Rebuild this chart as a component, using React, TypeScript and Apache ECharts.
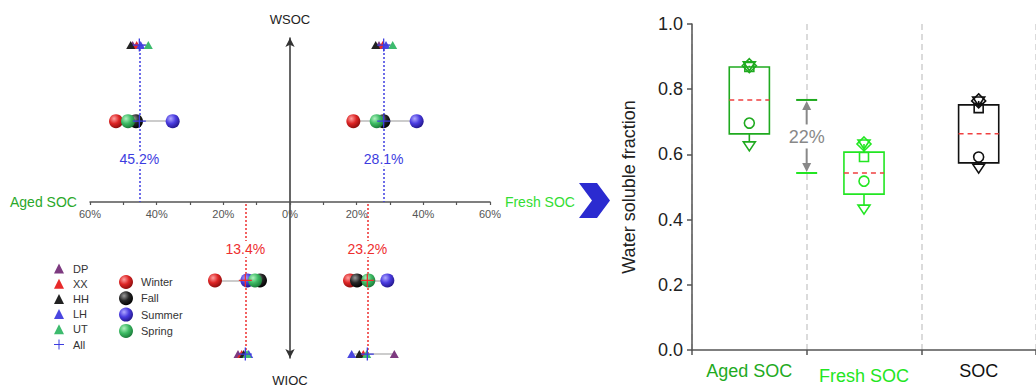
import React, { useEffect, useRef } from 'react';
import * as echarts from 'echarts';

const FONT = 'Liberation Sans, Arial, Helvetica, sans-serif';

// ---------- left panel data (percent of SOC) ----------
const sites = ['DP', 'XX', 'HH', 'LH', 'UT'];
const siteColors = ['#7d3a80', '#e82a2a', '#222222', '#4a46e0', '#3dbb6e'];
const siteAgedWSOC = [47.2, 46.0, 47.8, 44.8, 42.5];
const siteFreshWSOC = [26.7, 27.8, 25.7, 28.8, 30.8];
const siteAgedWIOC = [15.6, 14.5, 13.9, 12.4, 12.9];
const siteFreshWIOC = [31.3, 22.0, 20.8, 18.5, 23.0];

const seasons = ['Winter', 'Fall', 'Summer', 'Spring'];
const seasonShades = [
  ['#ffa0a0', '#dd2525', '#8a0d0d'],
  ['#9a9a9a', '#262626', '#000000'],
  ['#b0a8ff', '#4a3ce0', '#22168a'],
  ['#b0f2c0', '#3dbb64', '#1a7a38'],
];
const seasonAgedWSOC = [52.2, 46.2, 35.2, 48.6];
const seasonFreshWSOC = [19.0, 28.0, 38.0, 26.0];
const seasonAgedWIOC = [22.5, 9.0, 12.8, 10.5];
const seasonFreshWIOC = [18.0, 20.1, 29.2, 23.5];

const allAgedWSOC = 45.2;
const allFreshWSOC = 28.1;
const allAgedWIOC = 13.4;
const allFreshWIOC = 23.2;

const xTicks = [-60, -40, -20, 0, 20, 40, 60];

// row positions: WSOC half (upwards), WIOC half (downwards)
const ROW_WS_SITE = 2.0;
const ROW_WS_SEASON = 1.03;
const ROW_WS_LABEL = 0.55;
const ROW_WI_LABEL = -0.6;
const ROW_WI_SEASON = -1.0;
const ROW_WI_SITE = -1.94;

// ---------- right panel data ----------
const boxCats = ['Aged SOC', 'Fresh SOC', 'SOC'];
const boxColors = ['#1faa1f', '#22e622', '#111111'];
const boxQ3 = [0.868, 0.607, 0.752];
const boxQ1 = [0.663, 0.478, 0.574];
const boxMean = [0.767, 0.543, 0.663];
const boxMax = [0.872, 0.632, 0.764];
const squareVals = [0.868, 0.592, 0.742];
const circleVals = [0.696, 0.518, 0.592];
const boxMin = [0.626, 0.432, 0.558];
const yTicks = [0, 0.2, 0.4, 0.6, 0.8, 1.0];

const PLUS = 'path://M9,0h2v9h9v2h-9v9h-2v-9h-9v-2h9z';
const BLUE = '#3c3ce0';
const RED = '#ee2e2e';

function seg(vals: number[], y: number) {
  return { coords: [[Math.min(...vals), y], [Math.max(...vals), y]] };
}

function buildOption() {
  const neg = (a: number[]) => a.map((v) => -v);

  // per half: 0 = WSOC (top grid), 1 = WIOC (bottom grid)
  const halves = [
    {
      siteAged: siteAgedWSOC, siteFresh: siteFreshWSOC,
      seasonAged: seasonAgedWSOC, seasonFresh: seasonFreshWSOC,
      allAged: allAgedWSOC, allFresh: allFreshWSOC,
      rowSite: ROW_WS_SITE, rowSeason: ROW_WS_SEASON, rowLabel: ROW_WS_LABEL,
      lineColor: BLUE, seasonCross: BLUE,
    },
    {
      siteAged: siteAgedWIOC, siteFresh: siteFreshWIOC,
      seasonAged: seasonAgedWIOC, seasonFresh: seasonFreshWIOC,
      allAged: allAgedWIOC, allFresh: allFreshWIOC,
      rowSite: ROW_WI_SITE, rowSeason: ROW_WI_SEASON, rowLabel: ROW_WI_LABEL,
      lineColor: RED, seasonCross: RED,
    },
  ];

  const leftSeries: any[] = [];
  halves.forEach((h, g) => {
    const ax = { xAxisIndex: g, yAxisIndex: g };
    leftSeries.push({
      type: 'lines',
      coordinateSystem: 'cartesian2d',
      ...ax,
      z: 1,
      silent: true,
      lineStyle: { color: '#cccccc', width: 2, opacity: 1 },
      data: [
        seg([...neg(h.siteAged), -h.allAged], h.rowSite),
        seg([...h.siteFresh, h.allFresh], h.rowSite),
        seg(neg(h.seasonAged), h.rowSeason),
        seg(h.seasonFresh, h.rowSeason),
      ],
    });
    leftSeries.push({
      type: 'lines',
      coordinateSystem: 'cartesian2d',
      ...ax,
      z: 2,
      silent: true,
      lineStyle: { width: 1.5, type: [2, 2], opacity: 1, color: h.lineColor },
      data: [
        { coords: [[-h.allAged, h.rowSite], [-h.allAged, 0]] },
        { coords: [[h.allFresh, h.rowSite], [h.allFresh, 0]] },
      ],
    });
    seasons.forEach((s, i) => {
      leftSeries.push({
        name: s,
        type: 'scatter',
        ...ax,
        symbol: 'circle',
        symbolSize: 14,
        z: 3,
        itemStyle: {
          opacity: 1,
          color: {
            type: 'radial',
            x: 0.36,
            y: 0.32,
            r: 0.72,
            colorStops: [
              { offset: 0, color: seasonShades[i][0] },
              { offset: 0.5, color: seasonShades[i][1] },
              { offset: 1, color: seasonShades[i][2] },
            ],
          },
        },
        data: [
          [-h.seasonAged[i], h.rowSeason],
          [h.seasonFresh[i], h.rowSeason],
        ],
      });
    });
    sites.forEach((s, i) => {
      leftSeries.push({
        name: s,
        type: 'scatter',
        ...ax,
        symbol: 'triangle',
        symbolSize: [9, 8],
        z: 4,
        itemStyle: { color: siteColors[i], opacity: 1 },
        data: [
          [-h.siteAged[i], h.rowSite],
          [h.siteFresh[i], h.rowSite],
        ],
      });
    });
    leftSeries.push({
      name: 'All',
      type: 'scatter',
      ...ax,
      symbol: PLUS,
      symbolSize: 13,
      z: 5,
      itemStyle: { color: BLUE, opacity: 1 },
      data: [
        [-h.allAged, h.rowSite],
        [h.allFresh, h.rowSite],
      ],
    });
    leftSeries.push({
      name: g === 0 ? 'All' : 'AllSeasonWIOC',
      type: 'scatter',
      ...ax,
      symbol: PLUS,
      symbolSize: 13,
      z: 5,
      itemStyle: { color: h.seasonCross, opacity: 1 },
      data: [
        [-h.allAged, h.rowSeason],
        [h.allFresh, h.rowSeason],
      ],
    });
    leftSeries.push({
      type: 'scatter',
      ...ax,
      symbol: 'circle',
      symbolSize: 2,
      z: 6,
      silent: true,
      itemStyle: { color: 'rgba(255,255,255,0)', opacity: 1 },
      label: {
        show: true,
        position: 'inside',
        fontSize: 14,
        fontFamily: FONT,
        color: h.lineColor,
        opacity: 1,
        backgroundColor: '#ffffff',
        padding: [1, 2],
        formatter: (p: any) => `${Math.abs(p.value[0]).toFixed(1)}%`,
      },
      data: [
        [-h.allAged, h.rowLabel],
        [h.allFresh, h.rowLabel],
      ],
    });
  });

  const boxData = boxCats.map((_, i) => [i, boxQ3[i], boxQ1[i], boxMean[i], boxMax[i], squareVals[i], circleVals[i], boxMin[i]]);

  const hiddenY = {
    axisTick: { show: false },
    axisLabel: { show: false },
    splitLine: { show: false },
  };

  return {
    animation: false,
    textStyle: { fontFamily: FONT },
    grid: [
      { left: 90, top: 38, width: 400, height: 164 },
      { left: 90, top: 202, width: 400, height: 156 },
      { left: 692, top: 24, width: 352.5, height: 326 },
    ],
    legend: [
      {
        data: [...sites, 'All'],
        orient: 'vertical',
        left: 54,
        top: 263,
        itemWidth: 10,
        itemHeight: 10,
        itemGap: 4.2,
        padding: 0,
        selectedMode: false,
        textStyle: { fontSize: 11, color: '#333', padding: [0, 0, 0, 4], fontFamily: FONT },
      },
      {
        data: seasons,
        orient: 'vertical',
        left: 119,
        top: 275,
        itemWidth: 14,
        itemHeight: 14,
        itemGap: 2.3,
        padding: 0,
        selectedMode: false,
        textStyle: { fontSize: 11, color: '#333', padding: [0, 0, 0, 3], fontFamily: FONT },
      },
    ],
    xAxis: [
      {
        gridIndex: 0,
        type: 'value',
        min: -60,
        max: 60,
        interval: 20,
        name: 'Fresh SOC',
        nameLocation: 'end',
        nameGap: 12,
        nameTextStyle: { color: '#33dd33', fontSize: 14, verticalAlign: 'middle', fontFamily: FONT },
        axisLine: { show: true, onZero: false, lineStyle: { color: '#555', width: 1.5 } },
        axisTick: { show: true, length: 3, lineStyle: { color: '#555', width: 1.2 } },
        minorTick: { show: true, splitNumber: 2, length: 3, lineStyle: { color: '#555', width: 1.2 } },
        axisLabel: {
          fontSize: 11,
          color: '#555',
          margin: 6,
          customValues: xTicks,
          formatter: (v: number) => `${Math.abs(v)}%`,
        },
        splitLine: { show: false },
      },
      {
        gridIndex: 1,
        type: 'value',
        min: -60,
        max: 60,
        interval: 20,
        show: false,
      },
      {
        gridIndex: 2,
        type: 'category',
        data: boxCats,
        boundaryGap: true,
        axisLine: { show: true, lineStyle: { color: '#555', width: 1.5 } },
        axisTick: { show: true, length: 5, lineStyle: { color: '#555', width: 1.5 } },
        axisLabel: {
          margin: 12,
          interval: 0,
          formatter: (v: string, i: number) => `{c${i}|${v}}`,
          rich: {
            c0: { color: boxColors[0], fontSize: 18, fontFamily: FONT },
            c1: { color: boxColors[1], fontSize: 18, fontFamily: FONT, padding: [5, 0, 0, 0] },
            c2: { color: '#111', fontSize: 18, fontFamily: FONT },
          },
        },
        splitLine: { show: true, interval: 0, lineStyle: { color: '#cfcfcf', width: 1.5, type: [6, 4] } },
      },
    ],
    yAxis: [
      {
        gridIndex: 0,
        type: 'value',
        min: 0,
        max: 2.09,
        name: 'WSOC',
        nameLocation: 'end',
        nameGap: 12,
        nameTextStyle: { color: '#222', fontSize: 13, fontFamily: FONT },
        axisLine: {
          show: true,
          onZero: true,
          symbol: ['none', 'arrow'],
          symbolSize: [7, 9],
          lineStyle: { color: '#333', width: 1.5 },
        },
        ...hiddenY,
      },
      {
        gridIndex: 1,
        type: 'value',
        min: -1.99,
        max: 0,
        axisLine: {
          show: true,
          onZero: true,
          symbol: ['arrow', 'none'],
          symbolSize: [7, 9],
          lineStyle: { color: '#333', width: 1.5 },
        },
        ...hiddenY,
      },
      {
        gridIndex: 2,
        type: 'value',
        min: 0,
        max: 1,
        interval: 0.2,
        name: 'Water soluble fraction',
        nameLocation: 'middle',
        nameGap: 54,
        nameTextStyle: { color: '#222', fontSize: 18, fontFamily: FONT },
        axisLine: { show: true, lineStyle: { color: '#555', width: 1.5 } },
        axisTick: { show: true, length: 5, lineStyle: { color: '#555', width: 1.5 } },
        axisLabel: {
          fontSize: 18,
          color: '#222',
          margin: 9,
          customValues: yTicks,
          formatter: (v: number) => v.toFixed(1),
        },
        splitLine: { show: false },
      },
    ],
    graphic: [
      {
        type: 'text',
        x: 10,
        y: 202,
        style: { text: 'Aged SOC', fill: '#2aa82a', fontSize: 14, fontFamily: FONT, verticalAlign: 'middle' },
      },
      {
        type: 'text',
        x: 290,
        y: 380,
        style: { text: 'WIOC', fill: '#222', fontSize: 13, fontFamily: FONT, align: 'center', verticalAlign: 'middle' },
      },
      {
        type: 'polygon',
        shape: { points: [[579, 183], [597, 183], [610, 200.5], [597, 218], [579, 218], [592, 200.5]] },
        style: { fill: '#2b2bd0' },
      },
    ],
    series: [
      ...leftSeries,
      {
        type: 'custom',
        xAxisIndex: 2,
        yAxisIndex: 2,
        z: 4,
        silent: true,
        data: boxData,
        renderItem: (params: any, api: any) => {
          const idx = api.value(0);
          const q3 = api.value(1);
          const q1 = api.value(2);
          const mean = api.value(3);
          const mx = api.value(4);
          const sq = api.value(5);
          const ci = api.value(6);
          const mn = api.value(7);
          const color = boxColors[idx];
          const cx = api.coord([idx, mean])[0];
          const bw = api.size([1, 0])[0];
          const hw = bw * 0.175;
          const y = (v: number) => api.coord([idx, v])[1];
          const st = { stroke: color, lineWidth: 1.6, fill: 'none' };
          const tri = (yy: number) => ({
            type: 'polygon',
            shape: { points: [[cx - 6, yy - 4], [cx + 6, yy - 4], [cx, yy + 5]] },
            style: st,
          });
          const children: any[] = [
            {
              type: 'rect',
              shape: { x: cx - hw, y: y(q3), width: 2 * hw, height: y(q1) - y(q3) },
              style: st,
            },
            {
              type: 'line',
              shape: { x1: cx - hw, y1: y(mean), x2: cx + hw, y2: y(mean) },
              style: { stroke: '#f04040', lineWidth: 1.5, lineDash: [5, 4] },
            },
            { type: 'line', shape: { x1: cx, y1: y(q1), x2: cx, y2: y(mn) - 4 }, style: st },
            { type: 'line', shape: { x1: cx, y1: y(q3), x2: cx, y2: y(mx) }, style: st },
            tri(y(mn)),
            tri(y(mx)),
            {
              type: 'polygon',
              shape: { points: [[cx, y(mx) - 7], [cx + 7, y(mx)], [cx, y(mx) + 7], [cx - 7, y(mx)]] },
              style: st,
            },
            {
              type: 'rect',
              shape: { x: cx - 4.5, y: y(sq) - 4.5, width: 9, height: 9 },
              style: st,
            },
            { type: 'circle', shape: { cx, cy: y(ci), r: 5 }, style: st },
          ];
          return { type: 'group', children };
        },
      },
      {
        type: 'custom',
        xAxisIndex: 2,
        yAxisIndex: 2,
        z: 5,
        silent: true,
        data: [[0, boxMean[0], boxMean[1]]],
        renderItem: (params: any, api: any) => {
          const a = api.value(1);
          const b = api.value(2);
          const bw = api.size([1, 0])[0];
          const bx = api.coord([0, a])[0] + bw / 2;
          const ya = api.coord([0, a])[1];
          const yb = api.coord([0, b])[1];
          const mid = (ya + yb) / 2;
          const gray = '#888888';
          return {
            type: 'group',
            children: [
              { type: 'rect', shape: { x: bx - 4, y: ya + 2, width: 8, height: yb - ya - 4 }, style: { fill: '#fff' } },
              { type: 'line', shape: { x1: bx - 10.5, y1: ya, x2: bx + 10.5, y2: ya }, style: { stroke: boxColors[0], lineWidth: 2 } },
              { type: 'line', shape: { x1: bx - 10.5, y1: yb, x2: bx + 10.5, y2: yb }, style: { stroke: boxColors[1], lineWidth: 2 } },
              { type: 'line', shape: { x1: bx, y1: mid - 12, x2: bx, y2: ya + 8 }, style: { stroke: gray, lineWidth: 2 } },
              { type: 'polygon', shape: { points: [[bx, ya + 1], [bx - 4.5, ya + 10], [bx + 4.5, ya + 10]] }, style: { fill: gray } },
              { type: 'line', shape: { x1: bx, y1: mid + 12, x2: bx, y2: yb - 8 }, style: { stroke: gray, lineWidth: 2 } },
              { type: 'polygon', shape: { points: [[bx, yb - 1], [bx - 4.5, yb - 10], [bx + 4.5, yb - 10]] }, style: { fill: gray } },
              {
                type: 'text',
                x: bx,
                y: mid + 1,
                style: {
                  text: `${Math.round((a - b) * 100)}%`,
                  fill: gray,
                  fontSize: 18,
                  fontFamily: FONT,
                  align: 'center',
                  verticalAlign: 'middle',
                },
              },
            ],
          };
        },
      },
    ],
  };
}

export default function App() {
  const ref = useRef<HTMLDivElement>(null);
  useEffect(() => {
    if (!ref.current) return;
    const chart = echarts.init(ref.current, null, { renderer: 'svg' });
    chart.setOption(buildOption() as any);
    return () => chart.dispose();
  }, []);
  return (
    <div
      ref={ref}
      style={{ position: 'fixed', left: 0, top: 0, width: 1036, height: 388, background: '#fff' }}
    />
  );
}
